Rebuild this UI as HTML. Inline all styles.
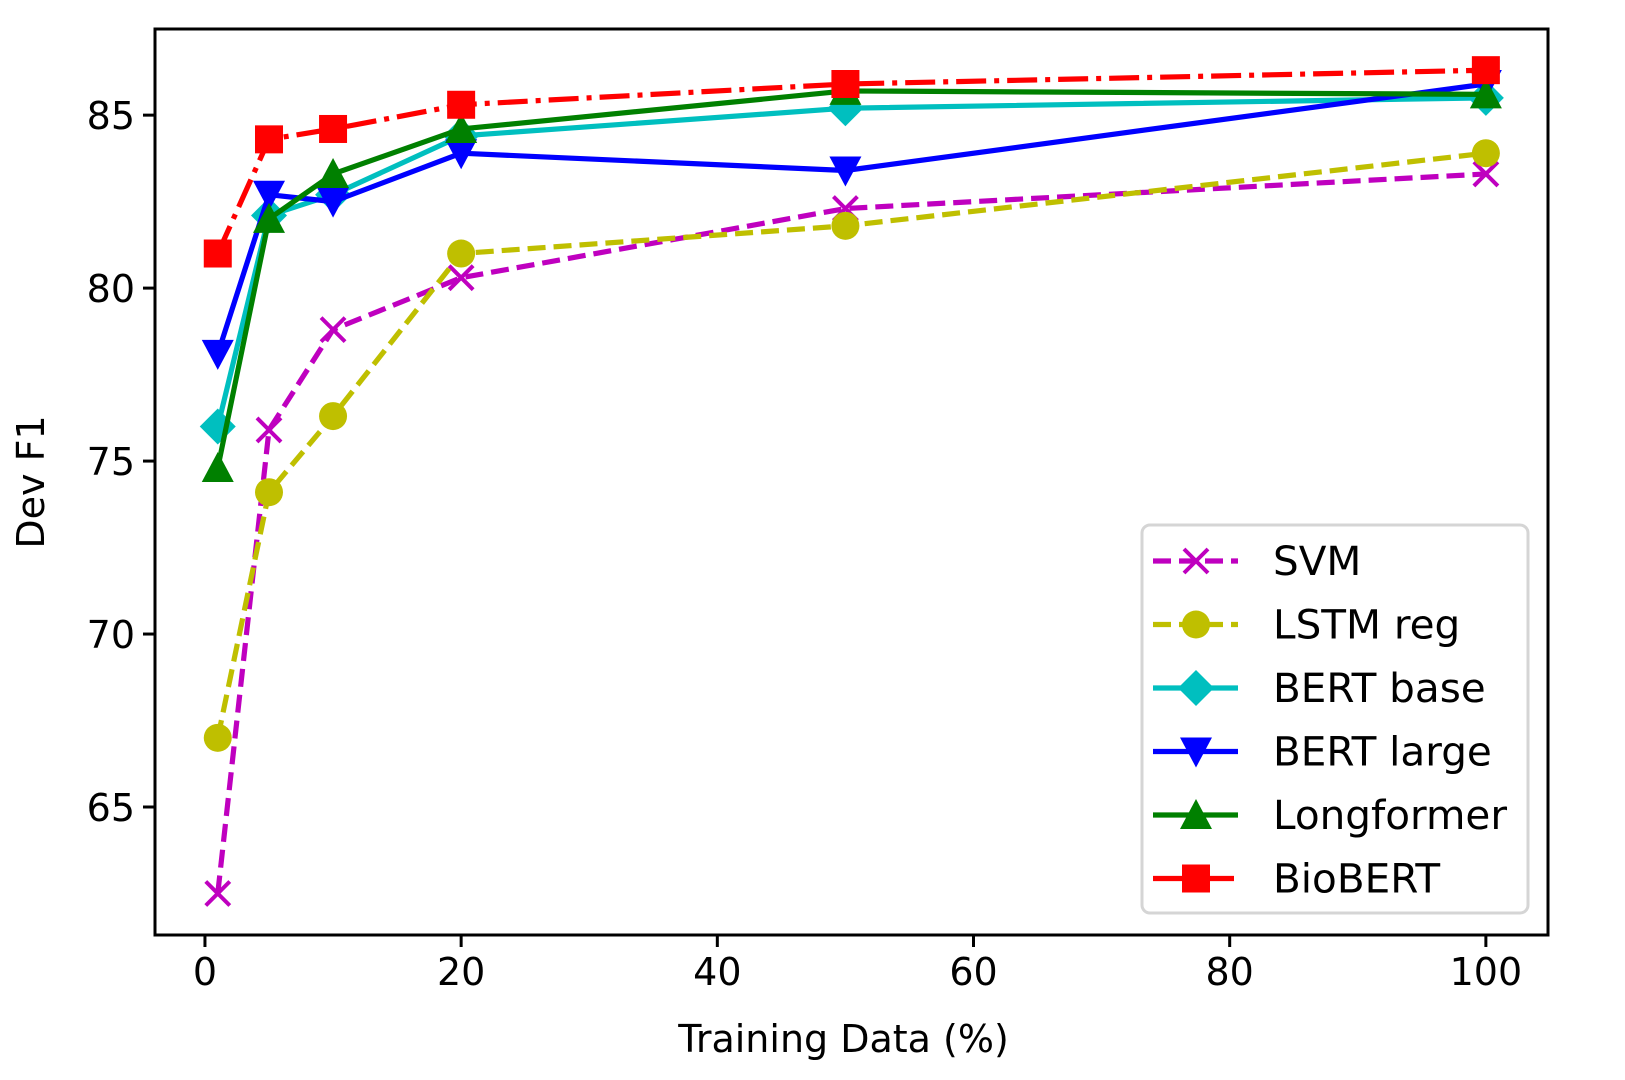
<!DOCTYPE html>
<html><head><meta charset="utf-8"><style>
html,body{margin:0;padding:0;background:#fff;}
svg{display:block;font-family:"DejaVu Sans","Liberation Sans",sans-serif;}
</style></head><body>
<svg id="chart" width="1625" height="1080" viewBox="0 0 1625 1080" xmlns="http://www.w3.org/2000/svg"></svg>
<script>
const xValues = [1, 5, 10, 20, 50, 100];
const svmValues = [62.5, 75.9, 78.8, 80.3, 82.3, 83.3];
const lstmValues = [67.0, 74.1, 76.3, 81.0, 81.8, 83.9];
const bertBaseValues = [76.0, 82.1, 82.7, 84.4, 85.2, 85.5];
const bertLargeValues = [78.1, 82.7, 82.5, 83.9, 83.4, 85.9];
const longformerValues = [74.8, 82.0, 83.3, 84.6, 85.7, 85.6];
const biobertValues = [81.0, 84.3, 84.6, 85.3, 85.9, 86.3];
const xTicks = [0, 20, 40, 60, 80, 100];
const yTicks = [65, 70, 75, 80, 85];
const seriesNames = ["SVM", "LSTM reg", "BERT base", "BERT large", "Longformer", "BioBERT"];

const NS = "http://www.w3.org/2000/svg";
const svg = document.getElementById('chart');
const L = 155, R = 1548, T = 29, B = 935;
const xMin = -3.9, xMax = 104.85, yMin = 61.3, yMax = 87.49;
function xs(v){ return L + (v - xMin) / (xMax - xMin) * (R - L); }
function ys(v){ return B - (v - yMin) / (yMax - yMin) * (B - T); }
function mk(tag, attrs, parent){
  const e = document.createElementNS(NS, tag);
  for (const k in attrs) e.setAttribute(k, attrs[k]);
  (parent || svg).appendChild(e);
  return e;
}
const styles = [
  {color:'#bf00bf', dash:'18,8', marker:'x'},
  {color:'#bfbf00', dash:'18,8', marker:'o'},
  {color:'#00bfbf', dash:'', marker:'D'},
  {color:'#0000ff', dash:'', marker:'v'},
  {color:'#008000', dash:'', marker:'^'},
  {color:'#ff0000', dash:'30,8,5,8', marker:'s'}
];
const allValues = [svmValues, lstmValues, bertBaseValues, bertLargeValues, longformerValues, biobertValues];

function drawMarker(g, type, cx, cy, color){
  let m;
  if (type === 'x') {
    m = mk('path', {d:`M${cx-12},${cy-12}L${cx+12},${cy+12}M${cx-12},${cy+12}L${cx+12},${cy-12}`, stroke:color, 'stroke-width':4, fill:'none'}, g);
  } else if (type === 'o') {
    m = mk('circle', {cx:cx, cy:cy, r:14, fill:color}, g);
  } else if (type === 'D') {
    m = mk('polygon', {points:`${cx},${cy-18} ${cx+18},${cy} ${cx},${cy+18} ${cx-18},${cy}`, fill:color}, g);
  } else if (type === 'v') {
    m = mk('polygon', {points:`${cx-16},${cy-14} ${cx+16},${cy-14} ${cx},${cy+16}`, fill:color}, g);
  } else if (type === '^') {
    m = mk('polygon', {points:`${cx-16},${cy+14} ${cx+16},${cy+14} ${cx},${cy-16}`, fill:color}, g);
  } else {
    m = mk('rect', {x:cx-14, y:cy-14, width:28, height:28, fill:color}, g);
  }
  return m;
}

xTicks.forEach(t => {
  const x = xs(t);
  const tk = mk('line', {x1:x, x2:x, y1:B, y2:B+12, stroke:'#000', 'stroke-width':3});
  
  
  const lb = mk('text', {x:x, y:B+50, 'font-size':38, 'text-anchor':'middle', fill:'#000'});
  lb.textContent = t;
  
  
});
yTicks.forEach(t => {
  const y = ys(t);
  const tk = mk('line', {x1:L-12, x2:L, y1:y, y2:y, stroke:'#000', 'stroke-width':3});
  
  
  const lb = mk('text', {x:L-20, y:y+14, 'font-size':38, 'text-anchor':'end', fill:'#000'});
  lb.textContent = t;
  
  
});

allValues.forEach((vals, i) => {
  const st = styles[i];
  const g = mk('g', {});
  
  
  const pts = vals.map((v, j) => xs(xValues[j]) + ',' + ys(v)).join(' ');
  const pl = mk('polyline', {points:pts, fill:'none', stroke:st.color, 'stroke-width':5.2, 'stroke-dasharray':st.dash, 'stroke-linejoin':'round'}, g);
  
  
  vals.forEach((v, j) => {
    const m = drawMarker(g, st.marker, xs(xValues[j]), ys(v), st.color);
    
    
  });
});

const frame = mk('rect', {x:L, y:T, width:R-L, height:B-T, fill:'none', stroke:'#000', 'stroke-width':3});



const xt = mk('text', {x:(L+R)/2 - 8, y:1052, 'font-size':38, 'text-anchor':'middle', fill:'#000'});
xt.textContent = 'Training Data (%)';


const yt = mk('text', {x:0, y:0, 'font-size':38, 'text-anchor':'middle', fill:'#000', transform:`translate(44,${(T+B)/2}) rotate(-90)`});
yt.textContent = 'Dev F1';



const lg = mk('g', {});


const lbx = mk('rect', {x:1142, y:525, width:386, height:388, rx:8, fill:'#fff', 'fill-opacity':0.85, stroke:'#d5d5d5', 'stroke-width':3}, lg);


seriesNames.forEach((n, i) => {
  const st = styles[i];
  const y = 561 + i * 63.5;
  const eg = mk('g', {}, lg);
  
  
  mk('line', {x1:1153, x2:1238, y1:y, y2:y, stroke:st.color, 'stroke-width':5.2, 'stroke-dasharray':st.dash}, eg);
  drawMarker(eg, st.marker, 1196, y, st.color);
  const t = mk('text', {x:1273, y:y+14, 'font-size':40.5, fill:'#000'}, eg);
  t.textContent = n;
});
</script>
</body></html>
